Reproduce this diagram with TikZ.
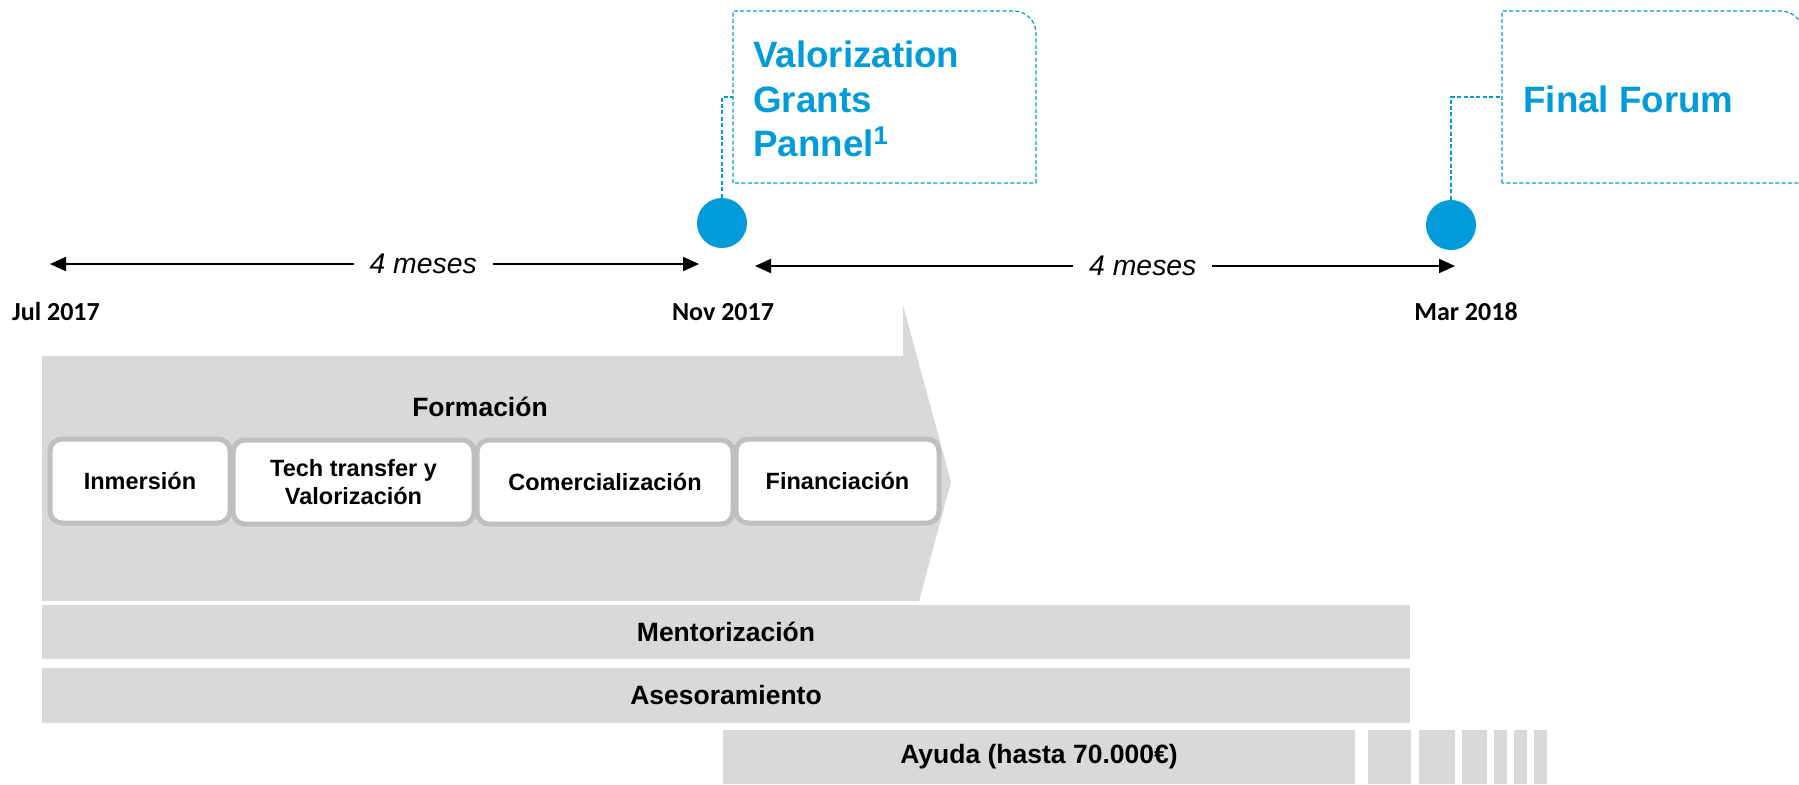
\documentclass[tikz,border=0pt]{standalone}
\usepackage{fontspec}
\setmainfont{Liberation Sans}
\newfontfamily\carlito{Carlito}
\usetikzlibrary{arrows.meta}
\definecolor{cblue}{RGB}{0,155,216}
\definecolor{cgrey}{RGB}{217,217,217}
\definecolor{cborder}{RGB}{191,191,191}
\begin{document}
\begin{tikzpicture}[x=0.5pt,y=-0.5pt,
  date/.style={font=\carlito\bfseries\fontsize{13}{15}\selectfont, inner sep=0, anchor=base},
  dur/.style={font=\itshape\fontsize{14.2}{16}\selectfont, fill=white, inner xsep=8pt, inner ysep=2pt},
  tl/.style={line width=1pt, {Triangle[length=8pt,width=7pt]}-{Triangle[length=8pt,width=7pt]}},
  milestone/.style={circle, fill=cblue, minimum size=25pt, inner sep=0},
  callout/.style={cblue, line width=0.6pt, dash pattern=on 2pt off 1.2pt},
  bluetext/.style={text=cblue, font=\bfseries\fontsize{18.35}{22.25}\selectfont, align=left, inner sep=0},
  phase/.style={draw=cborder, line width=2.5pt, fill=white, rounded corners=6pt, minimum height=42pt, font=\bfseries\fontsize{11.75}{13.6}\selectfont, align=center, inner sep=0},
  bar/.style={fill=cgrey, inner sep=0, minimum height=27pt, font=\bfseries\fontsize{13.25}{15}\selectfont},
  bartext/.style={font=\bfseries\fontsize{13.25}{15}\selectfont}
]
\useasboundingbox (0,0) rectangle (1799,784);

% chevron
\fill[cgrey] (42,356) -- (903,356) -- (903,305) -- (951,482) -- (919,601) -- (42,601) -- cycle;
\node[bartext] (form) at (480,407) {Formación};

% phase boxes
\node[phase, minimum width=90pt] (p1) at (140,481) {Inmersión};
\node[phase, minimum width=120.5pt] (p2) at (353.5,482) {Tech transfer y\\Valorización};
\node[phase, minimum width=128pt] (p3) at (605,482) {Comercialización};
\node[phase, minimum width=101.5pt] (p4) at (837.5,481) {Financiación};

% bars
\node[bar, minimum width=684pt] (ment) at (726,632) {Mentorización};
\node[bar, minimum width=684pt, minimum height=27.5pt] (ases) at (726,695.5) {Asesoramiento};
\node[bar, minimum width=316pt] (ayuda) at (1039,757) {Ayuda (hasta 70.000€)};
\fill[cgrey] (1368,730) rectangle (1411,784);
\fill[cgrey] (1419,730) rectangle (1455,784);
\fill[cgrey] (1462,730) rectangle (1487,784);
\fill[cgrey] (1494,730) rectangle (1507,784);
\fill[cgrey] (1514,730) rectangle (1527,784);
\fill[cgrey] (1534,730) rectangle (1547,784);

% timeline
\coordinate (a1l) at (50,264);
\coordinate (a1r) at (699,264);
\coordinate (a2l) at (755,266);
\coordinate (a2r) at (1455,266);
\draw[tl] (a1l) -- (a1r) node[dur, pos=0.575] (m1) {4 meses};
\draw[tl] (a2l) -- (a2r) node[dur, pos=0.554] (m2) {4 meses};

\node[date] (d1) at (56,320) {Jul 2017};
\node[date] (d2) at (723,320) {Nov 2017};
\node[date] (d3) at (1466,320) {Mar 2018};

% milestones
\node[milestone] (c1) at (722,223) {};
\node[milestone] (c2) at (1451,225) {};

% callouts
\coordinate (k1) at (733,97);
\coordinate (k2) at (1502,97);
\draw[callout] (c1.north) |- (k1);
\draw[callout] (c2.north) |- (k2);
\draw[callout] (733,183) -- (733,11) -- (1014,11) .. controls (1026,11) and (1036,21) .. (1036,33) -- (1036,183) -- cycle;
\draw[callout] (1502,183) -- (1502,11) -- (1781,11) .. controls (1793,11) and (1803,21) .. (1803,33) -- (1803,183) -- cycle;
\node[bluetext, anchor=west] (vg) at (753,99) {Valorization\\Grants\\Pannel\textsuperscript{1}};
\node[bluetext, anchor=base west] (ff) at (1523,112) {Final Forum};
\end{tikzpicture}
\end{document}
